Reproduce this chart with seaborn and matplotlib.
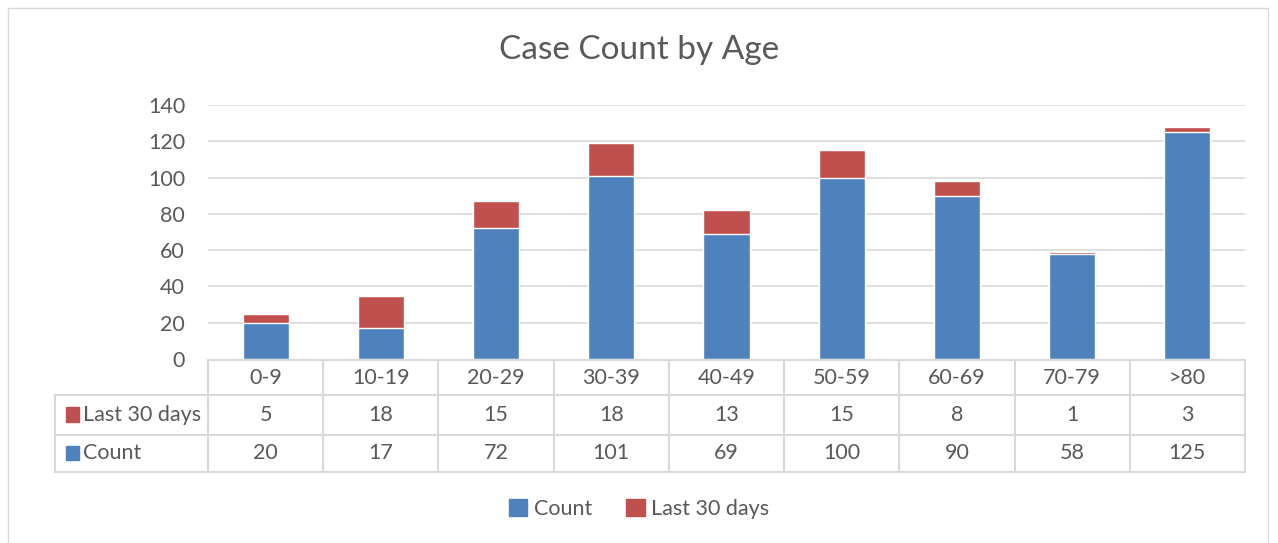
import matplotlib
matplotlib.use("Agg")
import matplotlib.pyplot as plt
from matplotlib.patches import Patch, Rectangle
import pandas as pd
import seaborn as sns

age_groups = ["0-9", "10-19", "20-29", "30-39", "40-49", "50-59", "60-69", "70-79", ">80"]
count = [20, 17, 72, 101, 69, 100, 90, 58, 125]
last_30_days = [5, 18, 15, 18, 13, 15, 8, 1, 3]
y_ticks = [0, 20, 40, 60, 80, 100, 120, 140]

BLUE = "#4F81BD"
RED = "#C0504D"
TEXT = "#595959"
GRID = "#D9D9D9"

sns.set_theme(style="white")
plt.rcParams["font.family"] = ["Lato", "DejaVu Sans"]

df = pd.DataFrame({"age": age_groups, "count": count, "last30": last_30_days})
df["total"] = df["count"] + df["last30"]

fig = plt.figure(figsize=(12.78, 5.43), dpi=100)
ax = fig.add_axes([208 / 1278, 1 - 359 / 543, 1037 / 1278, 254 / 543])

# stacked bars: total in red underneath, count in blue over it
sns.barplot(data=df, x="age", y="total", color=RED, width=0.4, ax=ax,
            edgecolor="white", linewidth=1, saturation=1)
sns.barplot(data=df, x="age", y="count", color=BLUE, width=0.4, ax=ax,
            edgecolor="white", linewidth=1, saturation=1)

ax.set_xlim(-0.5, len(age_groups) - 0.5)
ax.set_ylim(0, 140)
ax.set_yticks(y_ticks)
ax.set_yticklabels([str(t) for t in y_ticks], fontsize=15.5, color=TEXT)
ax.tick_params(axis="y", length=0, pad=16.5)
ax.set_xticks([])
ax.set_xlabel("")
ax.set_ylabel("")
for t in y_ticks[1:]:
    ax.axhline(t, color=GRID, lw=1.2, zorder=0)
for s in ax.spines.values():
    s.set_visible(False)

# data table under the plot
rows_y = [-0.004, -0.142, -0.299, -0.445]  # axes fraction
bt = ax.get_xaxis_transform()
lc = dict(color=GRID, lw=1.5, clip_on=False)
ax.plot([-0.5, len(age_groups) - 0.5], [rows_y[0]] * 2, transform=bt, **lc)
for y in rows_y[1:]:
    ax.plot([-0.1475, 1.0], [y, y], transform=ax.transAxes, **lc)
for i in range(len(age_groups) + 1):
    ax.plot([i - 0.5, i - 0.5], [rows_y[0], rows_y[3]], transform=bt, **lc)
ax.plot([-0.1475, -0.1475], [rows_y[1], rows_y[3]], transform=ax.transAxes, **lc)

mid = [(rows_y[k] + rows_y[k + 1]) / 2 for k in range(3)]
for i, a in enumerate(age_groups):
    ax.text(i, mid[0], a, transform=bt, ha="center", va="center", fontsize=15.5, color=TEXT)
    ax.text(i, mid[1], str(last_30_days[i]), transform=bt, ha="center", va="center",
            fontsize=15.5, color=TEXT)
    ax.text(i, mid[2], str(count[i]), transform=bt, ha="center", va="center",
            fontsize=15.5, color=TEXT)

for y, lab, col in [(mid[1], "Last 30 days", RED), (mid[2], "Count", BLUE)]:
    ax.add_patch(Rectangle((-0.137, y - 0.026), 0.0125, 0.056, transform=ax.transAxes,
                           color=col, clip_on=False))
    ax.text(-0.1205, y, lab, transform=ax.transAxes, ha="left", va="center",
            fontsize=15.5, color=TEXT)

fig.text(0.5, 1 - 50 / 543, "Case Count by Age", ha="center", va="center",
         fontsize=24, color=TEXT)

handles = [Patch(color=BLUE, label="Count"), Patch(color=RED, label="Last 30 days")]
fig.legend(handles=handles, loc="center", bbox_to_anchor=(0.5, 1 - 509 / 543), ncol=2,
           frameon=False, fontsize=15.5, labelcolor=TEXT, handlelength=0.85, handleheight=0.85,
           handletextpad=0.3, columnspacing=1.6)

fig.add_artist(Rectangle((8 / 1278, -0.01), 1260 / 1278, 1 - 8 / 543 + 0.01,
                         transform=fig.transFigure, fill=False, edgecolor=GRID, lw=1))

fig.savefig("out.png", dpi=100)
